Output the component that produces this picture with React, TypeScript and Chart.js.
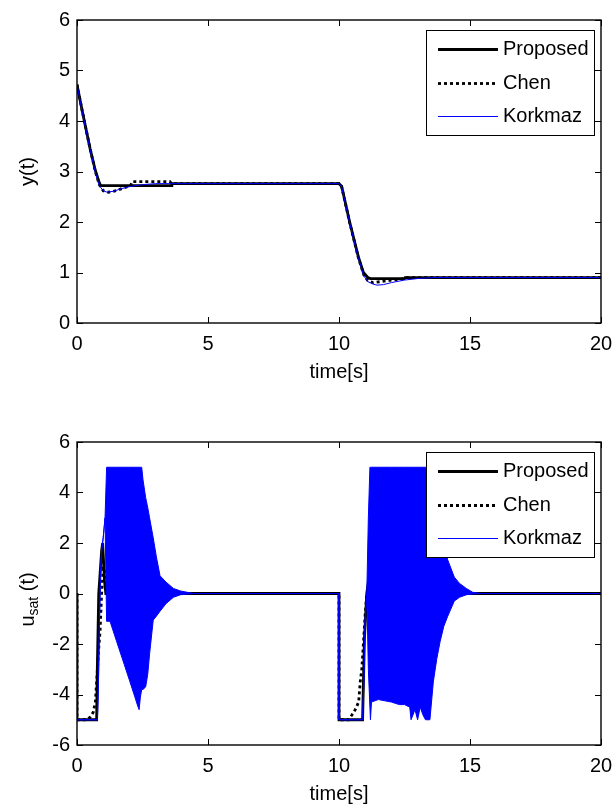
import React, { useEffect, useRef } from "react";
import { Chart, registerables } from "chart.js";

Chart.register(...registerables);

const FONT = "'Liberation Sans', Arial, Helvetica, sans-serif";
const FONT_SIZE = 20;

// ---------- shared axis ----------
const xMin = 0;
const xMax = 20;
const xStep = 5;
const xTitle = "time[s]";

// ---------- top panel: y(t) ----------
const topYMin = 0;
const topYMax = 6;
const topYStep = 1;

const propYTime = [0, 0.2, 0.5, 0.7, 0.85, 0.9, 3.6, 3.62, 10.0, 10.1, 10.42, 10.74, 10.93, 11.1, 11.2, 12.5, 12.52, 20];
const propYVal = [4.72, 4.2, 3.45, 3.02, 2.78, 2.72, 2.72, 2.76, 2.76, 2.71, 1.97, 1.31, 1.0, 0.9, 0.88, 0.88, 0.9, 0.9];

const chenYTime = [0, 0.2, 0.5, 0.7, 0.85, 1.0, 1.2, 1.5, 1.8, 2.05, 2.1, 3.55, 3.6, 10.0, 10.1, 10.42, 10.74, 10.95, 11.1, 11.3, 11.6, 12.0, 12.4, 12.55, 20];
const chenYVal = [4.72, 4.2, 3.45, 3.0, 2.74, 2.62, 2.59, 2.62, 2.68, 2.72, 2.8, 2.8, 2.76, 2.76, 2.7, 1.96, 1.29, 0.95, 0.84, 0.8, 0.82, 0.85, 0.87, 0.9, 0.9];

const korkYTime = [0, 0.2, 0.5, 0.7, 0.85, 1.0, 1.15, 1.4, 1.7, 2.0, 2.5, 3.0, 10.0, 10.1, 10.42, 10.74, 10.95, 11.1, 11.3, 11.45, 11.7, 12.0, 12.5, 13.0, 13.6, 20];
const korkYVal = [4.72, 4.18, 3.43, 2.98, 2.72, 2.62, 2.59, 2.61, 2.66, 2.7, 2.74, 2.76, 2.76, 2.7, 1.95, 1.28, 0.93, 0.82, 0.77, 0.75, 0.76, 0.8, 0.85, 0.88, 0.9, 0.9];

// ---------- bottom panel: u_sat(t) ----------
const botYMin = -6;
const botYMax = 6;
const botYStep = 2;

const propUTime = [0, 0, 0.75, 0.77, 0.83, 0.94, 0.98, 1.05, 1.1, 10, 10, 10.9, 10.97, 11.06, 11.1, 11.2, 20];
const propUVal = [0, -5, -5, -3.3, 0, 1.7, 2.0, 0.5, 0, 0, -5, -5, -1.8, 0, 0.3, 0, 0];

const chenUTime = [0, 0, 0.37, 0.5, 0.62, 0.7, 0.75, 0.82, 0.88, 0.94, 1.0, 1.07, 1.13, 10, 10, 10.36, 10.5, 10.62, 10.75, 10.81, 10.87, 10.93, 11.0, 11.06, 20];
const chenUVal = [0, -5, -5, -4.9, -4.7, -4.3, -3.5, -2.3, -1.5, 0, 1.0, 1.0, 0, 0, -5, -5, -4.8, -4.6, -4.3, -3.5, -3.0, -2.0, -0.8, 0, 0];

// Korkmaz chattering: upper and lower envelope of the blue band
const korkUTime = [
  0, 0, 0.78, 0.82, 0.86, 0.9, 0.94, 1.0, 1.07, 1.13, 1.26, 1.5, 1.8, 2.0, 2.2, 2.3, 2.37, 2.42, 2.47, 2.52, 2.62, 2.7, 2.77, 2.91, 3.03, 3.17, 3.4, 3.68, 3.95, 4.44,
  10, 10, 10.9, 10.95, 11.0, 11.06, 11.12, 11.18, 11.2, 11.24, 11.5, 12.0, 12.3, 12.5, 12.7, 12.75, 12.9, 13.0, 13.1, 13.2, 13.3, 13.47, 13.6, 13.73, 13.86, 14.0, 14.15, 14.4, 14.6, 14.86, 15.1, 15.4, 20,
];
const korkUUpper = [
  0, -5, -5, -3.5, -1.0, 0.8, 1.7, 2.2, 3.0, 5, 5, 5, 5, 5, 5, 5, 5, 5, 5, 4.5, 3.8, 3.4, 3.0, 2.2, 1.45, 0.7, 0.45, 0.2, 0.1, 0,
  0, -5, -5, -3.5, -1.0, 0, 3.0, 5, 5, 5, 5, 5, 5, 5, 5, 5, 5, 5, 5, 5, 5, 5, 5, 4.2, 3.0, 2.0, 1.33, 0.65, 0.4, 0.2, 0.05, 0, 0,
];
const korkULower = [
  0, -5, -5, -3.5, -1.0, 0.8, 1.7, 2.2, 3.0, -1.1, -1.1, -1.86, -2.8, -3.43, -4.07, -4.4, -4.6, -4.1, -3.8, -3.8, -3.7, -3.2, -2.4, -1.05, -0.9, -0.7, -0.4, -0.15, -0.05, 0,
  0, -5, -5, -3.5, -1.0, 0, -3.0, -4.5, -5, -4.3, -4.2, -4.3, -4.4, -4.4, -4.5, -5, -4.6, -5, -4.5, -4.8, -5, -5, -3.5, -2.6, -1.9, -1.3, -0.9, -0.3, -0.15, -0.05, -0.02, 0, 0,
];

const legendLabels = ["Proposed", "Chen", "Korkmaz"];

const BLACK = "#000000";
const BLUE = "#0000ff";

const pts = (t: number[], v: number[]) => t.map((x, i) => ({ x, y: v[i] }));

type TitlePart = { text: string; size: number; dy: number };

const framePlugin = {
  id: "matlabFrame",
  afterDraw(chart: any, _args: any, opts: any) {
    const { ctx, chartArea: a, scales } = chart;
    ctx.save();
    // inward ticks
    const L = 6;
    ctx.strokeStyle = BLACK;
    ctx.lineWidth = 1;
    ctx.beginPath();
    scales.x.ticks.forEach((t: any) => {
      const px = Math.round(scales.x.getPixelForValue(t.value)) + 0.5;
      ctx.moveTo(px, a.bottom);
      ctx.lineTo(px, a.bottom - L);
      ctx.moveTo(px, a.top);
      ctx.lineTo(px, a.top + L);
    });
    scales.y.ticks.forEach((t: any) => {
      const py = Math.round(scales.y.getPixelForValue(t.value)) + 0.5;
      ctx.moveTo(a.left, py);
      ctx.lineTo(a.left + L, py);
      ctx.moveTo(a.right, py);
      ctx.lineTo(a.right - L, py);
    });
    ctx.stroke();
    // frame
    ctx.lineWidth = 1.4;
    ctx.strokeRect(a.left, a.top, a.right - a.left, a.bottom - a.top);

    // legend
    const lw = 168;
    const lh = 105;
    const lx = Math.round(a.right - 175);
    const ly = Math.round(a.top + 10);
    ctx.fillStyle = "#ffffff";
    ctx.fillRect(lx, ly, lw, lh);
    ctx.lineWidth = 1;
    ctx.strokeStyle = BLACK;
    ctx.strokeRect(lx + 0.5, ly + 0.5, lw, lh);
    const items = chart.data.datasets.filter((d: any) => legendLabels.includes(d.label));
    items.sort((p: any, q: any) => legendLabels.indexOf(p.label) - legendLabels.indexOf(q.label));
    items.forEach((d: any, i: number) => {
      const y = Math.round(ly + 19 + i * 33.5) + 0.5;
      ctx.beginPath();
      ctx.setLineDash(d.borderDash || []);
      ctx.lineWidth = d.borderWidth;
      ctx.strokeStyle = d.borderColor;
      ctx.moveTo(lx + 12, y);
      ctx.lineTo(lx + 72, y);
      ctx.stroke();
      ctx.setLineDash([]);
      ctx.fillStyle = BLACK;
      ctx.font = `${FONT_SIZE}px ${FONT}`;
      ctx.textAlign = "left";
      ctx.textBaseline = "middle";
      ctx.fillText(d.label, lx + 77, y);
    });

    // y title (rotated, with optional subscript)
    const parts: TitlePart[] = opts.yTitle || [];
    let total = 0;
    parts.forEach((p) => {
      ctx.font = `${p.size}px ${FONT}`;
      total += ctx.measureText(p.text).width;
    });
    ctx.translate(opts.yTitleX, (a.top + a.bottom) / 2 + (opts.yTitleShift || 0));
    ctx.rotate(-Math.PI / 2);
    let cx = -total / 2;
    ctx.fillStyle = BLACK;
    ctx.textAlign = "left";
    ctx.textBaseline = "middle";
    parts.forEach((p) => {
      ctx.font = `${p.size}px ${FONT}`;
      ctx.fillText(p.text, cx, p.dy);
      cx += ctx.measureText(p.text).width;
    });
    ctx.restore();
  },
};

function makeConfig(datasets: any[], yMin: number, yMax: number, yStep: number, yTitle: TitlePart[], yTitleShift: number) {
  return {
    type: "line",
    data: { datasets },
    plugins: [framePlugin],
    options: {
      responsive: false,
      animation: false,
      devicePixelRatio: 1,
      parsing: false,
      normalized: true,
      layout: { padding: { top: 20, right: 13, left: 0, bottom: 0 } },
      elements: { point: { radius: 0 }, line: { tension: 0 } },
      plugins: {
        legend: { display: false },
        tooltip: { enabled: false },
        matlabFrame: { yTitle, yTitleX: 28, yTitleShift },
      },
      scales: {
        x: {
          type: "linear",
          min: xMin,
          max: xMax,
          grid: { display: false, drawTicks: false },
          border: { display: false },
          ticks: { stepSize: xStep, color: BLACK, padding: 9, font: { family: FONT, size: FONT_SIZE }, maxRotation: 0 },
          title: { display: true, text: xTitle, color: BLACK, font: { family: FONT, size: FONT_SIZE }, padding: { top: 0, bottom: 16 } },
          afterFit: (s: any) => {
            s.height = 77;
            s.paddingLeft = 0;
            s.paddingRight = 0;
          },
        },
        y: {
          type: "linear",
          min: yMin,
          max: yMax,
          grid: { display: false, drawTicks: false },
          border: { display: false },
          ticks: { stepSize: yStep, color: BLACK, padding: 7, font: { family: FONT, size: FONT_SIZE } },
          afterFit: (s: any) => {
            s.width = 77;
            s.paddingTop = 0;
            s.paddingBottom = 0;
          },
        },
      },
    },
  };
}

function ChartCanvas({ config }: { config: () => any }) {
  const ref = useRef<HTMLCanvasElement | null>(null);
  useEffect(() => {
    if (!ref.current) return;
    const chart = new Chart(ref.current, config());
    return () => chart.destroy();
  }, []);
  return <canvas ref={ref} width={614} height={400} style={{ display: "block", width: 614, height: 400 }} />;
}

const topConfig = () =>
  makeConfig(
    [
      { label: "Korkmaz", data: pts(korkYTime, korkYVal), borderColor: BLUE, borderWidth: 1, fill: false, order: 0 },
      { label: "Chen", data: pts(chenYTime, chenYVal), borderColor: BLACK, borderWidth: 2.8, borderDash: [3, 3], fill: false, order: 1 },
      { label: "Proposed", data: pts(propYTime, propYVal), borderColor: BLACK, borderWidth: 2.8, fill: false, order: 2 },
    ],
    topYMin,
    topYMax,
    topYStep,
    [{ text: "y(t)", size: FONT_SIZE, dy: 0 }],
    0
  );

const bottomConfig = () =>
  makeConfig(
    [
      { label: "Korkmaz", data: pts(korkUTime, korkUUpper), borderColor: BLUE, backgroundColor: BLUE, borderWidth: 1, fill: "+1", order: 0 },
      { label: "_korkLower", data: pts(korkUTime, korkULower), borderColor: BLUE, borderWidth: 1, fill: false, order: 0 },
      { label: "Chen", data: pts(chenUTime, chenUVal), borderColor: BLACK, borderWidth: 2.8, borderDash: [3, 3], fill: false, order: 1 },
      { label: "Proposed", data: pts(propUTime, propUVal), borderColor: BLACK, borderWidth: 2.8, fill: false, order: 2 },
    ],
    botYMin,
    botYMax,
    botYStep,
    [
      { text: "u", size: FONT_SIZE, dy: 0 },
      { text: "sat", size: 14, dy: 6 },
      { text: " (t)", size: FONT_SIZE, dy: 0 },
    ],
    6
  );

export default function App() {
  return (
    <div style={{ position: "fixed", left: 0, top: 0, width: 614, height: 805, overflow: "hidden", background: "#fff" }}>
      <div style={{ position: "absolute", left: 0, top: 0 }}>
        <ChartCanvas config={topConfig} />
      </div>
      <div style={{ position: "absolute", left: 0, top: 422 }}>
        <ChartCanvas config={bottomConfig} />
      </div>
    </div>
  );
}
